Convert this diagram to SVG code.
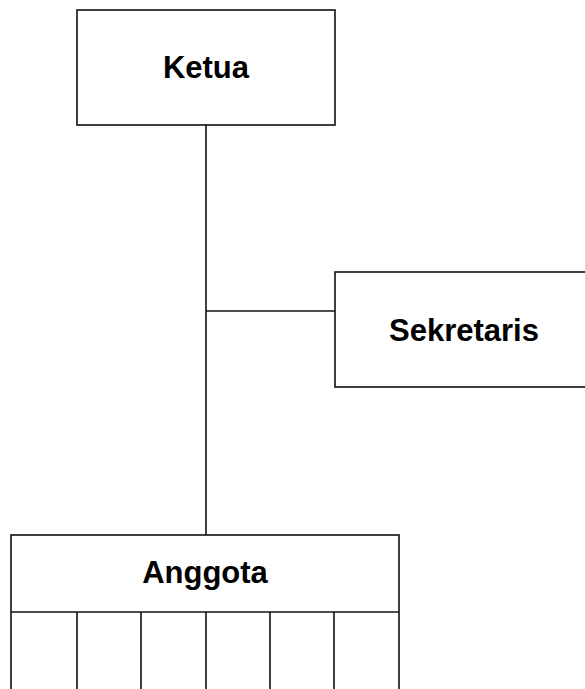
<svg xmlns="http://www.w3.org/2000/svg" width="585" height="689" viewBox="0 0 585 689">
<style>
.box{fill:#fff;stroke:#111;stroke-width:1.6}
.ln{stroke:#111;stroke-width:1.6;fill:none}
.t{font-family:"Liberation Sans",Arial,sans-serif;font-weight:bold;font-size:31px;fill:#000;text-anchor:middle}
</style>
<rect width="585" height="689" fill="#fff"/>
<g id="connectors">
<line class="ln" x1="206" y1="125" x2="206" y2="535"/>
<line class="ln" x1="206" y1="311" x2="335" y2="311"/>
</g>
<g id="ketua">
<rect class="box" x="77" y="10" width="258" height="115"/>
<text class="t" x="206" y="78">Ketua</text>
</g>
<g id="sekretaris">
<rect class="box" x="335" y="272" width="260" height="115"/>
<text class="t" x="464" y="341">Sekretaris</text>
</g>
<g id="anggota">
<rect class="box" x="11" y="535" width="388" height="170"/>
<line class="ln" x1="11" y1="612" x2="399" y2="612"/>
<line class="ln" x1="77" y1="612" x2="77" y2="689"/>
<line class="ln" x1="141" y1="612" x2="141" y2="689"/>
<line class="ln" x1="206" y1="612" x2="206" y2="689"/>
<line class="ln" x1="270" y1="612" x2="270" y2="689"/>
<line class="ln" x1="334" y1="612" x2="334" y2="689"/>
<text class="t" x="205" y="583">Anggota</text>
</g>
</svg>
